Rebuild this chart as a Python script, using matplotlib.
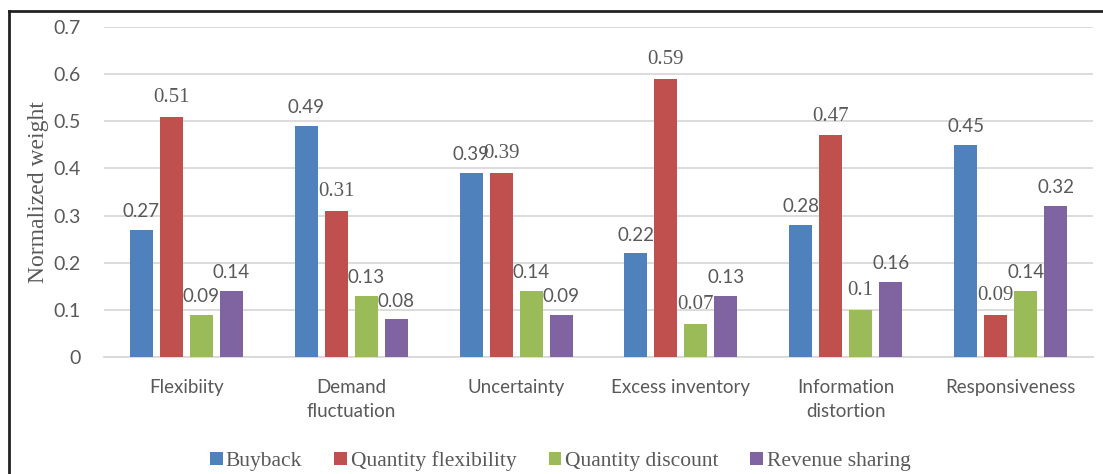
import matplotlib
matplotlib.use("Agg")
import matplotlib.pyplot as plt
from matplotlib.lines import Line2D
from matplotlib.patches import Patch
import numpy as np

categories = ["Flexibiity", "Demand\nfluctuation", "Uncertainty", "Excess inventory",
              "Information\ndistortion", "Responsiveness"]
series_names = ["Buyback", "Quantity flexibility", "Quantity discount", "Revenue sharing"]
buyback = [0.27, 0.49, 0.39, 0.22, 0.28, 0.45]
quantity_flexibility = [0.51, 0.31, 0.39, 0.59, 0.47, 0.09]
quantity_discount = [0.09, 0.13, 0.14, 0.07, 0.10, 0.14]
revenue_sharing = [0.14, 0.08, 0.09, 0.13, 0.16, 0.32]
value_labels = [
    ["0.27", "0.49", "0.39", "0.22", "0.28", "0.45"],
    ["0.51", "0.31", "0.39", "0.59", "0.47", "0.09"],
    ["0.09", "0.13", "0.14", "0.07", "0.1", "0.14"],
    ["0.14", "0.08", "0.09", "0.13", "0.16", "0.32"],
]
yticks = [0, 0.1, 0.2, 0.3, 0.4, 0.5, 0.6, 0.7]
ytick_labels = ["0", "0.1", "0.2", "0.3", "0.4", "0.5", "0.6", "0.7"]

colors = ["#4F81BD", "#C0504D", "#9BBB59", "#8064A2"]
text_gray = "#595959"
SANS = ["Lato", "DejaVu Sans"]
SERIF = ["Liberation Serif", "DejaVu Serif"]

fig = plt.figure(figsize=(11.03, 4.74), dpi=100)
ax = fig.add_axes([104 / 1103, 1 - 357 / 474, (1093 - 104) / 1103, (357 - 27) / 474])

data = [buyback, quantity_flexibility, quantity_discount, revenue_sharing]
x = np.arange(len(categories))
step = 30 / 165
width = 23 / 165
serif_labels = {(1, i) for i in range(6)} | {(2, 3), (2, 4)}

for s, vals in enumerate(data):
    pos = x + (s - 1.5) * step
    ax.bar(pos, vals, width=width, color=colors[s], zorder=3, label=series_names[s])
    for i, (p, v) in enumerate(zip(pos, vals)):
        fam = SERIF if (s, i) in serif_labels else SANS
        fs = 15 if fam is SERIF else 13.5
        ax.annotate(value_labels[s][i], (p, v), xytext=(0, 7), textcoords="offset points",
                    ha="center", va="bottom", fontsize=fs, family=fam, color=text_gray,
                    zorder=4)

ax.set_xlim(-0.5, 5.5)
ax.set_ylim(0, 0.7)
ax.set_yticks(yticks)
ax.set_yticklabels(ytick_labels, family=SANS, fontsize=14, color=text_gray)
ax.set_xticks(x)
ax.set_xticklabels(categories, family=SANS, fontsize=13.5, color=text_gray, linespacing=1.5)
ax.tick_params(axis="x", length=0, pad=16)
ax.tick_params(axis="y", length=0, pad=17)
ax.yaxis.grid(True, color="#D9D9D9", linewidth=1.3, zorder=0)
ax.set_axisbelow(True)
for sp in ["top", "right", "left"]:
    ax.spines[sp].set_visible(False)
ax.spines["bottom"].set_color("#D9D9D9")
ax.spines["bottom"].set_linewidth(1.3)

ax.set_ylabel("Normalized weight", family=SERIF, fontsize=17, color=text_gray, labelpad=3)

handles = [Patch(facecolor=c, edgecolor="none") for c in colors]
fig.legend(handles, series_names, loc="center", bbox_to_anchor=(560 / 1103, 1 - 461 / 474),
           ncol=4, frameon=False, prop={"family": SERIF, "size": 15.5},
           handlelength=0.6, handleheight=0.6, handletextpad=0.15, columnspacing=1.5,
           labelcolor=text_gray)

# outer frame lines (left and top)
fig.add_artist(Line2D([9 / 1103, 9 / 1103], [0, 1 - 11 / 474], transform=fig.transFigure,
                      color="#222222", linewidth=2))
fig.add_artist(Line2D([9 / 1103, 1], [1 - 11 / 474, 1 - 11 / 474], transform=fig.transFigure,
                      color="#222222", linewidth=2))

fig.savefig("out.png", dpi=100)
